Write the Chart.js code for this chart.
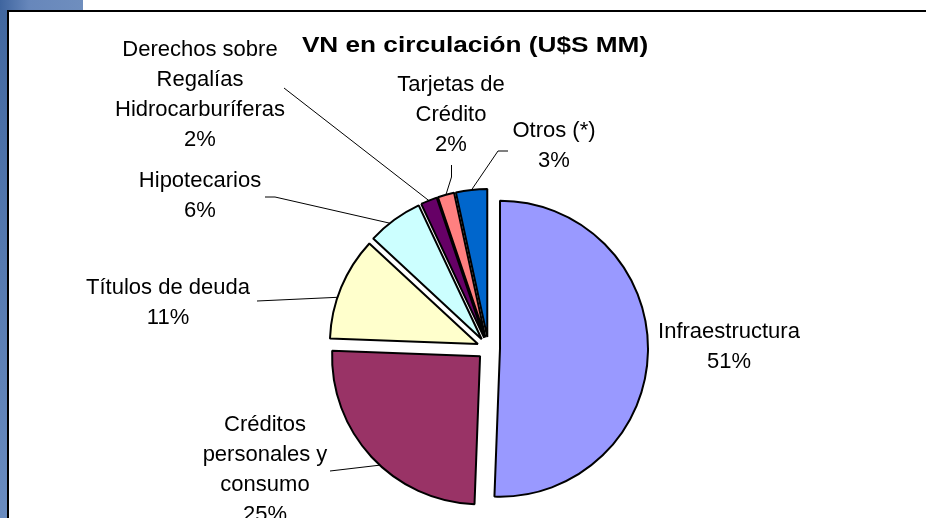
<!DOCTYPE html>
<html>
<head>
<meta charset="utf-8">
<script src="https://cdn.jsdelivr.net/npm/chart.js@4.4.1/dist/chart.umd.min.js"></script>
<style>
    html, body { margin: 0; padding: 0; background: #fff; }
    #wrap { position: relative; width: 926px; height: 518px; overflow: hidden; background: #fff; }
    #bgLeft { position: absolute; left: 0; top: 0; width: 7px; height: 518px; background: linear-gradient(#41679f, #6a8cc0); }
    #bgTop { position: absolute; left: 0; top: 0; width: 83px; height: 10px; background: linear-gradient(90deg, #3f659f, #6787bb 35%, #6f8ebe); }
    #frame { position: absolute; left: 7px; top: 10px; width: 919px; height: 508px; border-left: 2px solid #000; border-top: 2px solid #000; box-sizing: border-box; }
    #chart { position: absolute; left: 0; top: 0; }
</style>
</head>
<body>
<div id="wrap">
    <div id="bgLeft"></div>
    <div id="bgTop"></div>
    <div id="frame"></div>
    <canvas id="chart" width="926" height="518"></canvas>
</div>
<script>
// Data (share of VN in circulation, %)
const categories = [
    ['Infraestructura'],
    ['Créditos', 'personales y', 'consumo'],
    ['Títulos de deuda'],
    ['Hipotecarios'],
    ['Derechos sobre', 'Regalías', 'Hidrocarburíferas'],
    ['Tarjetas de', 'Crédito'],
    ['Otros (*)']
];
const shares = [50.6, 25.0, 11.3, 6.1, 1.8, 1.8, 3.4];
const sliceColors = ['#9999FF', '#993366', '#FFFFCC', '#CCFFFF', '#660066', '#FF8080', '#0066CC'];
const chartTitle = 'VN en circulación (U$S MM)';

// Layout of labels (centre x, first line y) and leader lines
const labelPos = [
    { x: 729, y: 332 },
    { x: 265, y: 425 },
    { x: 168, y: 288 },
    { x: 200, y: 181 },
    { x: 200, y: 50 },
    { x: 451, y: 85 },
    { x: 554, y: 131 }
];
const leaders = [
    null,
    { pts: [[330, 471]], frac: 0.45 },
    { pts: [[257, 301]], frac: 0.4 },
    { pts: [[265, 197], [275, 197]], frac: 0.4 },
    { pts: [[284, 88]], frac: 0.5 },
    { pts: [[451.5, 165], [451.5, 177]], frac: 0.5 },
    { pts: [[508, 151], [498, 151]], frac: 0.5 }
];
const EXPLODE = 11.5;
const LINE_H = 30;

// Push every slice out along its mid angle
const explodePlugin = {
    id: 'explode',
    afterDatasetUpdate(chart, args) {
        args.meta.data.forEach(arc => {
            const mid = (arc.startAngle + arc.endAngle) / 2;
            arc.x += Math.cos(mid) * EXPLODE;
            arc.y += Math.sin(mid) * EXPLODE;
        });
    }
};

const labelPlugin = {
    id: 'sliceLabels',
    afterDraw(chart) {
        const ctx = chart.ctx;
        const arcs = chart.getDatasetMeta(0).data;
        const total = shares.reduce((a, b) => a + b, 0);
        ctx.save();

        // title
        ctx.fillStyle = '#000';
        ctx.textAlign = 'center';
        ctx.textBaseline = 'middle';
        ctx.save();
        ctx.translate(475, 46);
        ctx.scale(1.19, 1);
        ctx.font = 'bold 22px "Liberation Sans", Arial, sans-serif';
        ctx.fillText(chartTitle, 0, 0);
        ctx.restore();

        // leader lines
        ctx.strokeStyle = '#000';
        ctx.lineWidth = 1;
        leaders.forEach((ld, i) => {
            if (!ld) return;
            const arc = arcs[i];
            const a = arc.startAngle + ld.frac * (arc.endAngle - arc.startAngle);
            ctx.beginPath();
            ctx.moveTo(ld.pts[0][0], ld.pts[0][1]);
            ld.pts.slice(1).forEach(p => ctx.lineTo(p[0], p[1]));
            ctx.lineTo(arc.x + Math.cos(a) * arc.outerRadius, arc.y + Math.sin(a) * arc.outerRadius);
            ctx.stroke();
        });

        // labels
        ctx.font = '22px "Liberation Sans", Arial, sans-serif';
        categories.forEach((lines, i) => {
            const pos = labelPos[i];
            const pct = Math.round(shares[i] / total * 100) + '%';
            lines.concat([pct]).forEach((txt, k) => {
                ctx.fillText(txt, pos.x, pos.y + k * LINE_H);
            });
        });
        ctx.restore();
    }
};

new Chart(document.getElementById('chart'), {
    type: 'pie',
    data: {
        labels: categories,
        datasets: [{
            data: shares,
            backgroundColor: sliceColors,
            borderColor: '#000',
            borderWidth: 2,
            radius: 148,
            clip: false,
            hoverOffset: 0
        }]
    },
    options: {
        responsive: false,
        animation: false,
        events: [],
        layout: { padding: { left: 61, right: 10, top: 189, bottom: 10 } },
        plugins: {
            legend: { display: false },
            tooltip: { enabled: false },
            title: { display: false }
        }
    },
    plugins: [explodePlugin, labelPlugin]
});
</script>
</body>
</html>
